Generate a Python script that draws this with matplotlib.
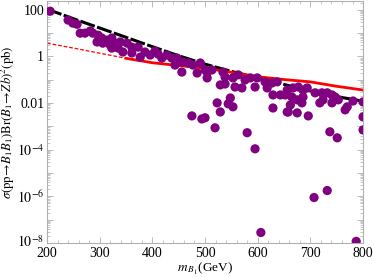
import numpy as np
import matplotlib.pyplot as plt
import matplotlib.transforms as mtransforms
from matplotlib.ticker import FixedLocator, NullFormatter

# %% Data (masses in GeV, cross sections as log10 of pb)
scan_mass = [
    206, 240, 249, 257, 263, 272, 282, 287, 297, 304, 295, 306, 314, 323, 320,
    329, 339, 344, 335, 323, 352, 361, 373, 361, 377, 386, 396, 405, 411, 418,
    428, 437, 447, 443, 456, 458, 468, 477, 485, 491, 500, 504, 475, 494, 504,
    513, 534, 538, 529, 538, 553, 563, 557, 570, 576, 586, 599, 595, 614, 618,
    627, 637, 629, 643, 652, 523, 529, 548, 544, 553, 629, 656, 519, 580, 500,
    656, 667, 677, 686, 694, 665, 675, 686, 684, 662, 658, 675, 696, 709, 722,
    732, 718, 724, 741, 747, 753, 741, 770, 766, 781, 800, 800, 800, 737, 751,
    595, 707, 732, 606, 787,
]
scan_log_sigma = [
    1.94, 1.56, 1.43, 1.38, 1.00, 1.00, 1.09, 1.00, 0.91, 0.79, 0.62, 0.57, 0.70, 0.79, 0.49,
    0.57, 0.62, 0.19, 0.36, 0.36, 0.57, 0.40, 0.40, 0.15, -0.03, 0.19, 0.06, 0.23, 0.10, -0.07,
    0.06, -0.07, -0.07, -0.37, -0.67, -0.24, -0.28, -0.37, -0.71, -0.28, -0.58, -0.92, -2.55, -2.68, -0.67,
    -0.58, -0.67, -0.88, -1.22, -1.18, -0.92, -0.79, -1.31, -1.35, -1.01, -0.92, -0.92, -1.31, -1.09, -1.35,
    -1.14, -1.09, -1.65, -1.65, -1.65, -1.99, -2.38, -1.78, -2.03, -2.16, -2.21, -2.38, -3.06, -3.27, -2.63,
    -1.44, -1.35, -1.31, -1.44, -1.35, -1.74, -1.86, -1.74, -1.99, -2.08, -2.38, -2.42, -2.55, -1.56, -1.56,
    -1.56, -1.99, -1.86, -1.65, -1.74, -1.86, -1.99, -2.16, -2.29, -1.91, -1.95, -2.59, -3.15, -3.23, -3.49,
    -3.96, -6.05, -5.75, -7.55, -7.93,
]

curve_mass = [200, 250, 300, 350, 400, 450, 500, 550, 600, 650, 700, 750, 800]
theory_log_sigma = [2.03, 1.62, 1.22, 0.82, 0.42, 0.03, -0.33, -0.64, -0.92, -1.20, -1.48, -1.72, -1.92]
limit_log_sigma = [0.57, 0.36, 0.14, -0.08, -0.27, -0.39, -0.50, -0.68, -0.87, -0.99, -1.09, -1.28, -1.44]
limit_start = 350  # red curve is dashed below this mass

# %% Plot
plt.rcParams["font.family"] = ["Liberation Serif", "DejaVu Serif"]
plt.rcParams["mathtext.fontset"] = "stix"

fig = plt.figure(figsize=(3.74, 2.77), dpi=100)
ax = fig.add_axes([0.1257, 0.1227, 0.845, 0.873])

cm = np.array(curve_mass, dtype=float)
theory = 10 ** np.array(theory_log_sigma)
limit = 10 ** np.array(limit_log_sigma)

ax.plot(cm, theory, color="black", lw=2.2, dashes=(5, 0.8), zorder=2)

low = cm <= limit_start
high = cm >= limit_start
ax.plot(cm[low], limit[low], color="red", lw=0.9, dashes=(3, 1.5), zorder=2)
ax.plot(cm[high], limit[high], color="red", lw=2.0, zorder=2)

ax.scatter(scan_mass, 10 ** np.array(scan_log_sigma), s=44, color="#800080",
           edgecolors="none", zorder=3)

ax.set_yscale("log")
ax.set_xlim(200, 800)
ax.set_ylim(1e-8, 10 ** 2.37)

# Frame and ticks, Mathematica style
for sp in ax.spines.values():
    sp.set_color("#b0b0b0")
    sp.set_linewidth(0.8)

ax.set_xticks(range(200, 801, 100))
ax.xaxis.set_minor_locator(FixedLocator(range(200, 801, 20)))
ax.set_yticks([10.0 ** k for k in range(-8, 3)])
ax.set_yticklabels(["$10^{-8}$", "", "$10^{-6}$", "", "$10^{-4}$", "", "0.01", "", "1", "", "100"])
minors = [m * 10.0 ** k for k in range(-8, 3) for m in range(2, 10)]
ax.yaxis.set_minor_locator(FixedLocator(minors))
ax.yaxis.set_minor_formatter(NullFormatter())

ax.tick_params(which="both", direction="in", top=True, right=True,
               color="#b0b0b0", labelsize=10, pad=2)
ax.tick_params(axis="x", pad=3)
ax.tick_params(which="major", length=4, width=0.6)
ax.tick_params(which="minor", length=2, width=0.5)

# nudge the lowest y label up a little so it clears the "200"
lab = ax.get_yticklabels()[0]
lab.set_transform(lab.get_transform() + mtransforms.ScaledTranslation(0, 2 / 72, fig.dpi_scale_trans))

ax.set_xlabel(r"$m_{\,B_1}$(GeV)", fontsize=9.5, labelpad=0)
ax.xaxis.set_label_coords(0.5, -0.075)
ax.set_ylabel(r"$\sigma(\mathrm{pp}\!\to\! B_1 B_1)\mathrm{Br}(B_1\!\to\! Zb)^2(\mathrm{pb})$",
              fontsize=9.2, labelpad=1)
ax.yaxis.set_label_coords(-0.095, 0.5)

fig.savefig("out.png", dpi=100)
